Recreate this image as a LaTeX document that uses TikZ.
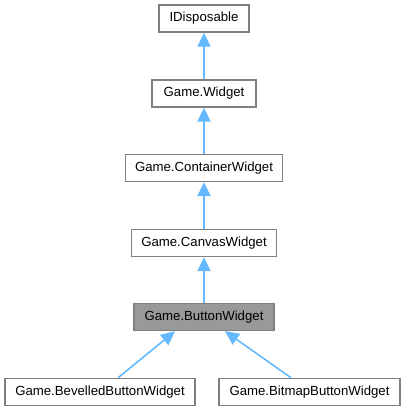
\documentclass[tikz,border=0pt]{standalone}
\usepackage{fontspec}
\setmainfont{Liberation Sans}
\usetikzlibrary{arrows.meta,calc}
\definecolor{edgeblue}{HTML}{63B8FF}
\definecolor{boxline}{HTML}{808080}
\definecolor{hilite}{HTML}{999999}
\tikzset{
  cls/.style={draw=boxline, line width=1.4pt, fill=white, minimum height=27pt, inner xsep=4pt, inner ysep=0pt, font=\fontsize{13.2}{15}\selectfont, anchor=center},
  clshi/.style={cls, fill=hilite},
  inh/.style={draw=edgeblue, line width=2pt, -{Triangle[width=13pt,length=14pt]}}
}
\begin{document}
\begin{tikzpicture}[x=1pt,y=-1pt]
\useasboundingbox (0,0) rectangle (405,411);
\node[cls, minimum width=90pt] (idisp) at (204,18.5) {IDisposable};
\node[cls, minimum width=104pt] (widget) at (204,93.5) {Game.Widget};
\node[cls, minimum width=157pt] (container) at (204,168) {Game.ContainerWidget};
\node[cls, minimum width=145pt] (canvas) at (204,243) {Game.CanvasWidget};
\node[clshi, minimum width=140pt] (button) at (204,317) {Game.ButtonWidget};
\node[cls, minimum width=190pt] (bevelled) at (100,392) {Game.BevelledButtonWidget};
\node[cls, minimum width=181pt] (bitmap) at (309.5,392) {Game.BitmapButtonWidget};
\draw[inh] (widget.north) -- (idisp.south);
\draw[inh] (container.north) -- (widget.south);
\draw[inh] (canvas.north) -- (container.south);
\draw[inh] (button.north) -- (canvas.south);
\draw[inh, line width=1.6pt] ($(bevelled.north)+(18,0)$) -- ($(button.south)+(-29,0)$);
\draw[inh, line width=1.6pt] ($(bitmap.north)+(-18.5,0)$) -- ($(button.south)+(21,0)$);
\end{tikzpicture}
\end{document}
